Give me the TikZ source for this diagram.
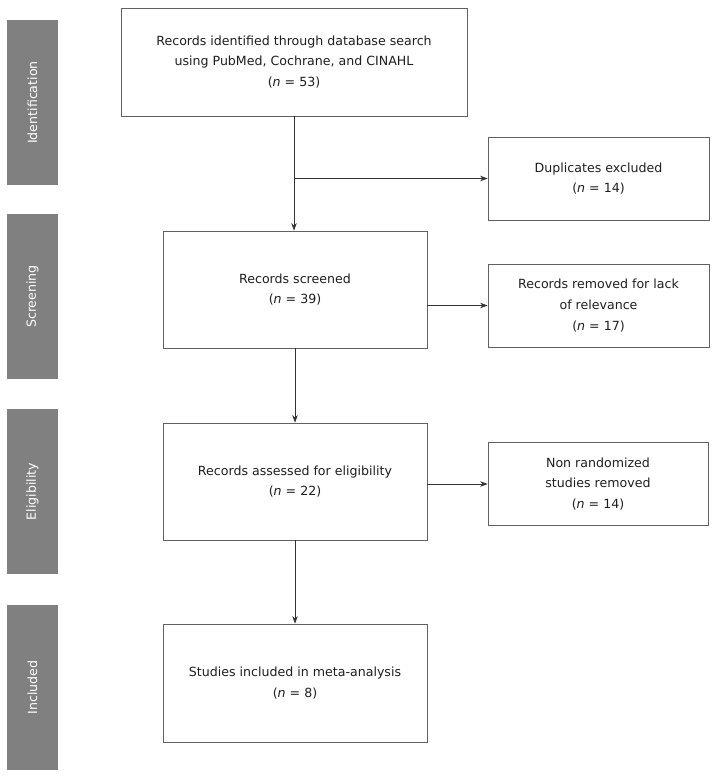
\documentclass[tikz,border=0pt]{standalone}
\usepackage{fontspec}
\setmainfont{DejaVu Sans}
\usetikzlibrary{arrows.meta}
\begin{document}
\begin{tikzpicture}[x=1pt,y=-1pt,
  every node/.style={font=\fontsize{12.6}{20.8}\selectfont},
  flowbox/.style={draw=black!62, line width=0.8pt, fill=white, align=center, text=black!88, inner sep=0pt},
  phasebar/.style={fill=black!50, draw=none, minimum width=51pt, minimum height=165pt, inner sep=0pt},
  phaselabel/.style={text=white, rotate=90},
  flowarrow/.style={draw=black!80, line width=0.7pt, -{Stealth[length=7.5pt,width=5.5pt]}},
  flowline/.style={draw=black!80, line width=0.7pt}
]
\useasboundingbox (0,0) rectangle (718,778);
% phase bars
\node[phasebar] (p1) at (32.5,102.5) {};
\node[phaselabel] (l1) at (p1.center) {Identification};
\node[phasebar] (p2) at (32.5,296.5) {};
\node[phaselabel] (l2) at (p2.center) {Screening};
\node[phasebar] (p3) at (32.5,491.5) {};
\node[phaselabel] (l3) at (p3.center) {Eligibility};
\node[phasebar] (p4) at (32.5,687.5) {};
\node[phaselabel] (l4) at (p4.center) {Included};
% main boxes
\node[flowbox, minimum width=346pt, minimum height=108pt] (b1) at (294,62)
  {Records identified through database search\\ using PubMed, Cochrane, and CINAHL\\ (\textit{n} = 53)};
\node[flowbox, minimum width=264pt, minimum height=117pt] (b2) at (295,289.5)
  {Records screened\\ (\textit{n} = 39)};
\node[flowbox, minimum width=264pt, minimum height=117pt] (b3) at (295,481.5)
  {Records assessed for eligibility\\ (\textit{n} = 22)};
\node[flowbox, minimum width=264pt, minimum height=118pt] (b4) at (295,683)
  {Studies included in meta-analysis\\ (\textit{n} = 8)};
% side boxes
\node[flowbox, minimum width=221pt, minimum height=83pt] (s1) at (598.5,178.5)
  {Duplicates excluded\\ (\textit{n} = 14)};
\node[flowbox, minimum width=221pt, minimum height=83pt] (s2) at (598.5,305.5)
  {Records removed for lack\\ of relevance\\ (\textit{n} = 17)};
\node[flowbox, minimum width=220pt, minimum height=83pt] (s3) at (598,484)
  {Non randomized\\ studies removed\\ (\textit{n} = 14)};
% connectors
\coordinate (br) at (b1.south |- s1.west);
\draw[flowarrow] (b1.south) -- (b2.north -| b1.south);
\draw[flowarrow] (br) -- (s1.west);
\draw[flowarrow] (b2.east |- s2.west) -- (s2.west);
\draw[flowarrow] (b2.south) -- (b3.north);
\draw[flowarrow] (b3.east |- s3.west) -- (s3.west);
\draw[flowarrow] (b3.south) -- (b4.north);
\end{tikzpicture}
\end{document}
